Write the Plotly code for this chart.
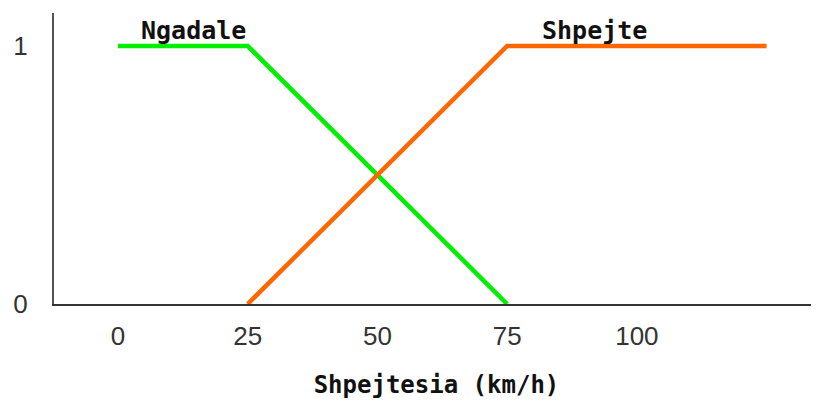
import plotly.graph_objects as go

# Membership functions
slow_x = [0, 25, 75]
slow_y = [1, 1, 0]
fast_x = [25, 75, 125]
fast_y = [0, 1, 1]

x_ticks = [0, 25, 50, 75, 100]
y_ticks = [0, 1]
labels = ["Ngadale", "Shpejte"]
x_title = "Shpejtesia (km/h)"

mono = "DejaVu Sans Mono"

fig = go.Figure()
fig.add_trace(go.Scatter(x=slow_x, y=slow_y, mode="lines",
                         line=dict(color="#00ee00", width=4.5), name=labels[0]))
fig.add_trace(go.Scatter(x=fast_x, y=fast_y, mode="lines",
                         line=dict(color="#ff6600", width=4.5), name=labels[1]))

fig.add_annotation(x=14.5, y=1.062, text="<b>" + labels[0] + "</b>", showarrow=False,
                   font=dict(family=mono, size=25, color="#111"))
fig.add_annotation(x=91.9, y=1.062, text="<b>" + labels[1] + "</b>", showarrow=False,
                   font=dict(family=mono, size=25, color="#111"))

fig.update_layout(
    width=811, height=393,
    margin=dict(l=46, r=0, t=5, b=97, autoexpand=False),
    paper_bgcolor="white", plot_bgcolor="white",
    showlegend=False,
    xaxis=dict(range=[-12.33, 135.1], tickvals=x_ticks, showgrid=False, zeroline=False,
               showline=True, linecolor="#333", linewidth=2, ticks="",
               automargin=False, ticklabelstandoff=8,
               tickfont=dict(family="Liberation Sans", size=26, color="#333"),
               title=dict(text="<b>" + x_title + "</b>", standoff=26,
                          font=dict(family=mono, size=24, color="#111"))),
    yaxis=dict(range=[0, 1.128], tickvals=y_ticks, showgrid=False, zeroline=False,
               showline=True, linecolor="#555", linewidth=2, ticks="",
               automargin=False, ticklabelstandoff=19,
               tickfont=dict(family="Liberation Sans", size=26, color="#333")),
)

fig.write_html("out.html")
